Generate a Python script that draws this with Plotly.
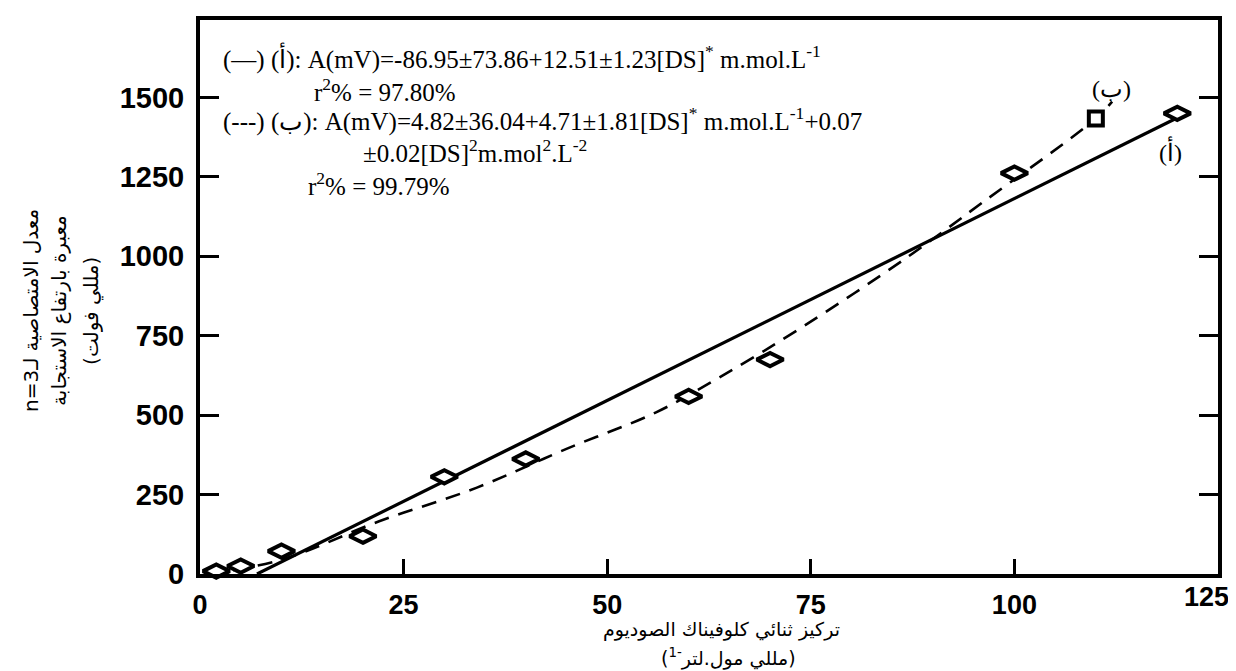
import plotly.graph_objects as go

# ---- data ----
conc = [2, 5, 10, 20, 30, 40, 60, 70, 100, 110, 120]
response = [9, 25, 72, 119, 306, 362, 559, 675, 1262, 1434, 1450]
point_symbols = ['diamond-wide'] * 9 + ['square', 'diamond-wide']
point_sizes = [19] * 9 + [14, 19]

line_a_x = [7, 121.5]
line_a_y = [0, 1455]

line_b_x = [1, 10, 22, 34, 45, 56, 64, 74, 87, 96, 110, 112]
line_b_y = [0, 45, 166, 272, 394, 509, 622, 778, 1000, 1168, 1434, 1487]

x_ticks = [0, 25, 50, 75, 100, 125]
x_tick_text = ["0", "25", "50", "75", "100", ""]
last_x_label = "125"
y_ticks = [0, 250, 500, 750, 1000, 1250, 1500]

eq_lines = [
    "(—) (أ): A(mV)=-86.95±73.86+12.51±1.23[DS]<sup>*</sup> m.mol.L<sup>-1</sup>",
    "r<sup>2</sup>% = 97.80%",
    "(---) (ب): A(mV)=4.82±36.04+4.71±1.81[DS]<sup>*</sup> m.mol.L<sup>-1</sup>+0.07",
    "±0.02[DS]<sup>2</sup>m.mol<sup>2</sup>.L<sup>-2</sup>",
    "r<sup>2</sup>% = 99.79%",
]
eq_pos = [(213, 46), (304, 79), (213, 108), (353, 140), (298, 173)]

RLE, PDF = "\u202B", "\u202C"
y_title = [RLE + "معدل الامتصاصية لـn=3" + PDF,
           RLE + "معبرة بارتفاع الاستجابة" + PDF,
           RLE + "(مللي فولت)" + PDF]
y_title_x = [23, 51, 84]
x_title = [RLE + "تركيز ثنائي كلوفيناك الصوديوم" + PDF,
           RLE + "(مللي مول.لتر<sup>-1</sup>)" + PDF]
x_title_pos = [(713, 622), (720, 650)]

# plot area in pixels
L, R, T, B = 192, 1210, 8, 566
W, H = 1236, 671


def px(x):
    return (x - L) / (R - L)


def py(y):
    return (B - y) / (B - T)


fig = go.Figure()
fig.add_trace(go.Scatter(x=line_a_x, y=line_a_y, mode='lines',
                         line=dict(color='black', width=3.2), showlegend=False))
fig.add_trace(go.Scatter(x=line_b_x, y=line_b_y, mode='lines', line_shape='spline',
                         line=dict(color='black', width=2.6, dash='15px,10px'),
                         showlegend=False))
fig.add_trace(go.Scatter(x=conc, y=response, mode='markers', cliponaxis=False,
                         marker=dict(symbol=point_symbols, size=point_sizes, color='white',
                                     opacity=1, line=dict(color='black', width=4)),
                         showlegend=False))

serif = "Liberation Serif, Times New Roman, serif"
arab = "DejaVu Sans, Arial, sans-serif"
sans = "Liberation Sans, Arial, sans-serif"
ann = []
for t, (x0, y0) in zip(eq_lines, eq_pos):
    ann.append(dict(text=t, xref='paper', yref='paper', x=px(x0), y=py(y0),
                    xanchor='left', yanchor='middle', showarrow=False,
                    font=dict(family=serif, size=25, color='black')))
for t, x0 in zip(y_title, y_title_x):
    ann.append(dict(text=t, xref='paper', yref='paper', x=px(x0), y=py(301),
                    xanchor='center', yanchor='middle', textangle=-90, showarrow=False,
                    font=dict(family=arab, size=20, color='black')))
for t, (x0, y0) in zip(x_title, x_title_pos):
    ann.append(dict(text=t, xref='paper', yref='paper', x=px(x0), y=py(y0),
                    xanchor='center', yanchor='middle', showarrow=False,
                    font=dict(family=arab, size=19, color='black')))
ann.append(dict(text="(ب)", x=111.9, y=1528, xref='x', yref='y', showarrow=False,
                font=dict(family=serif, size=24, color='black')))
ann.append(dict(text="(أ)", x=119.2, y=1331, xref='x', yref='y', showarrow=False,
                font=dict(family=serif, size=24, color='black')))
ann.append(dict(text=last_x_label, x=x_ticks[-1], y=0, xref='x', yref='y',
                xanchor='right', yanchor='top', xshift=13, yshift=-6, showarrow=False,
                font=dict(family=sans, size=27, color='black', weight='bold')))

fig.update_layout(
    width=W, height=H,
    margin=dict(l=L, r=W - R, t=T, b=H - B, pad=0),
    paper_bgcolor='white', plot_bgcolor='white',
    annotations=ann,
    xaxis=dict(range=[0, 125], tickvals=x_ticks, ticktext=x_tick_text,
               ticks='inside', ticklen=15, tickwidth=3, tickcolor='black',
               showline=True, linewidth=4, linecolor='black', mirror=True,
               showgrid=False, zeroline=False, ticklabelstandoff=4,
               tickfont=dict(family=sans, size=27, color='black', weight='bold')),
    yaxis=dict(range=[0, 1744], tickvals=y_ticks, ticktext=[str(v) for v in y_ticks],
               ticks='inside', ticklen=19, tickwidth=3, tickcolor='black',
               showline=True, linewidth=4, linecolor='black', mirror='ticks',
               showgrid=False, zeroline=False, ticklabelstandoff=6,
               tickfont=dict(family=sans, size=29, color='black', weight='bold')),
)

fig.write_html("out.html")
